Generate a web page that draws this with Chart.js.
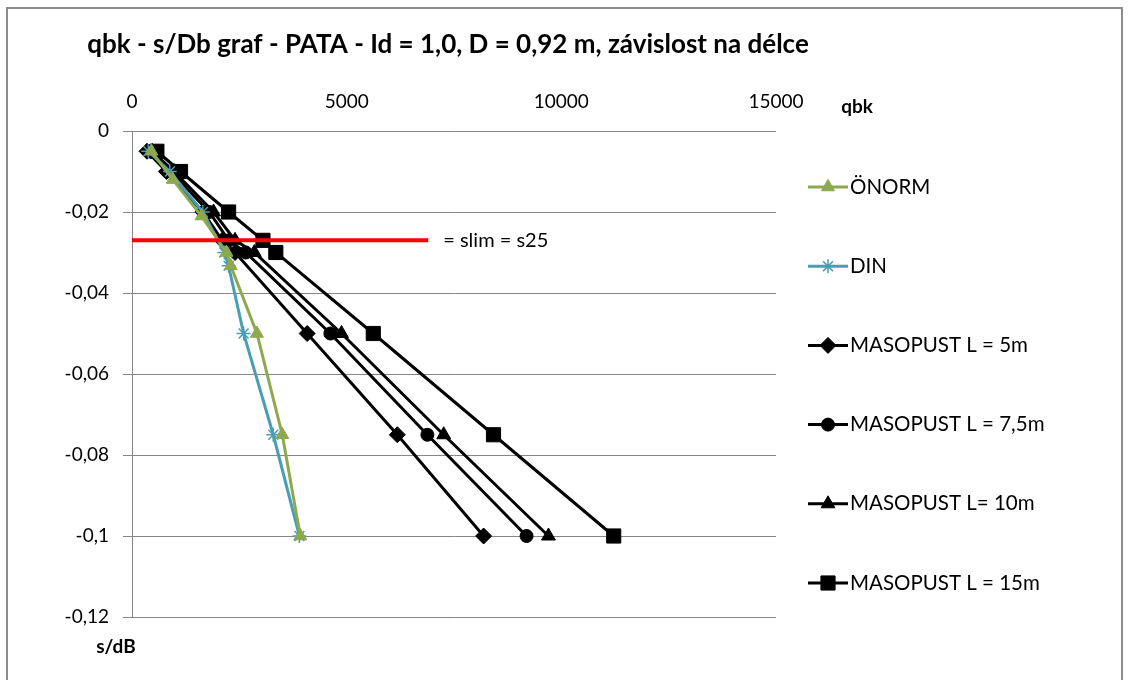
<!DOCTYPE html>
<html>
<head>
<meta charset="utf-8">
<script src="https://cdn.jsdelivr.net/npm/chart.js@4/dist/chart.umd.min.js"></script>
<style>
  body { margin: 0; background: #fff; }
  #wrap { width: 1132px; height: 680px; }
</style>
</head>
<body>
<div id="wrap"><canvas id="qbkChart" width="1132" height="680"></canvas></div>
<script>
// s/Db values (plotted downwards) and qbk values per series
var onormS = [-0.005, -0.012, -0.021, -0.03, -0.0333, -0.05, -0.075, -0.1];
var onormQ = [450, 950, 1620, 2200, 2300, 2910, 3500, 3920];
var dinS = [-0.005, -0.01, -0.02, -0.03, -0.0333, -0.05, -0.075, -0.1];
var dinQ = [380, 880, 1650, 2150, 2250, 2600, 3290, 3900];
var masoS = [-0.005, -0.01, -0.02, -0.027, -0.03, -0.05, -0.075, -0.1];
var maso5Q = [350, 800, 1650, 2100, 2400, 4080, 6180, 8190];
var maso75Q = [420, 900, 1800, 2250, 2650, 4620, 6880, 9190];
var maso10Q = [470, 980, 1900, 2400, 2850, 4880, 7260, 9700];
var maso15Q = [580, 1130, 2250, 3050, 3350, 5620, 8420, 11220];
var slimS = -0.027;
var slimQ = [0, 6900];

var seriesNames = ["ÖNORM", "DIN", "MASOPUST L = 5m", "MASOPUST L = 7,5m", "MASOPUST L= 10m", "MASOPUST L = 15m"];
var xTicks = [0, 5000, 10000, 15000];
var yTicks = [0, -0.02, -0.04, -0.06, -0.08, -0.1, -0.12];

var FONT = "Lato, 'Open Sans', sans-serif";

function pts(qs, ss) {
  return qs.map(function (q, i) {
    return { x: q, y: Array.isArray(ss) ? ss[i] : ss };
  });
}

function fmtNum(v) {
  return String(Math.round(v * 100) / 100).replace(".", ",");
}

var styles = [
  { color: "#8DA94F", point: "triangle", radius: 7.5 },
  { color: "#4A9DB5", point: "star", radius: 7 },
  { color: "#000000", point: "rectRot", radius: 8 },
  { color: "#000000", point: "circle", radius: 6.5 },
  { color: "#000000", point: "triangle", radius: 8 },
  { color: "#000000", point: "rect", radius: 10 },
];

var seriesData = [
  pts(onormQ, onormS),
  pts(dinQ, dinS),
  pts(maso5Q, masoS),
  pts(maso75Q, masoS),
  pts(maso10Q, masoS),
  pts(maso15Q, masoS),
];

var datasets = seriesData.map(function (d, i) {
  return {
    label: seriesNames[i],
    data: d,
    showLine: true,
    borderColor: styles[i].color,
    backgroundColor: styles[i].color,
    borderWidth: 3,
    pointStyle: styles[i].point,
    pointRadius: styles[i].radius,
    pointBorderWidth: i === 1 ? 1.5 : 1,
    pointBorderColor: styles[i].color,
    pointBackgroundColor: styles[i].color,
    order: 2,
  };
});

datasets.push({
  label: "slim",
  data: pts(slimQ, slimS),
  showLine: true,
  borderColor: "#FF0000",
  borderWidth: 4,
  pointRadius: 0,
  order: 1,
});

var decorPlugin = {
  id: "decor",
  afterDraw: function (chart) {
    var ctx = chart.ctx;
    var area = chart.chartArea;
    var x = chart.scales.x;
    var y = chart.scales.y;
    ctx.save();

    // outer frame
    ctx.strokeStyle = "#8c8c8c";
    ctx.lineWidth = 2;
    ctx.strokeRect(7, 8, 1115, 700);

    // title
    ctx.fillStyle = "#000";
    ctx.font = "bold 26px " + FONT;
    ctx.textAlign = "center";
    ctx.textBaseline = "middle";
    ctx.fillText("qbk - s/Db graf - PATA - Id = 1,0, D = 0,92 m, závislost na délce", 448, 45);

    // axis names
    ctx.font = "bold 19px " + FONT;
    ctx.fillText("qbk", area.right + 81, area.top - 24);
    ctx.fillText("s/dB", area.left - 16, area.bottom + 30);

    // slim label
    ctx.font = "20px " + FONT;
    ctx.textAlign = "left";
    ctx.fillText("= slim = s25", x.getPixelForValue(slimQ[1]) + 15, y.getPixelForValue(slimS));

    // legend
    var lx = area.right + 32;
    var ly0 = area.top + 56;
    var step = 79.2;
    ctx.font = "20.5px " + FONT;
    for (var i = 0; i < seriesNames.length; i++) {
      var ly = ly0 + i * step;
      var st = styles[i];
      ctx.strokeStyle = st.color;
      ctx.lineWidth = 3;
      ctx.beginPath();
      ctx.moveTo(lx, ly);
      ctx.lineTo(lx + 40, ly);
      ctx.stroke();
      ctx.lineWidth = i === 1 ? 1.5 : 1;
      ctx.fillStyle = st.color;
      Chart.helpers.drawPoint(ctx, { pointStyle: st.point, radius: st.radius, borderWidth: 1 }, lx + 20, ly);
      ctx.fillStyle = "#000";
      ctx.fillText(seriesNames[i], lx + 42, ly);
    }
    ctx.restore();
  },
};

var canvas = document.getElementById("qbkChart");
var ctx = canvas.getContext("2d");
var qbkChart = new Chart(ctx, {
  type: "scatter",
  data: { datasets: datasets },
  options: {
    responsive: false,
    animation: false,
    devicePixelRatio: 1,
    layout: { padding: { left: 0, top: 0, right: 356, bottom: 63 } },
    plugins: {
      legend: { display: false },
      tooltip: { enabled: false },
    },
    scales: {
      x: {
        type: "linear",
        position: "top",
        min: 0,
        max: 15000,
        afterFit: function (s) { s.height = 131; },
        afterBuildTicks: function (s) { s.ticks = xTicks.map(function (v) { return { value: v }; }); },
        grid: { display: false, drawTicks: false },
        border: { display: false },
        ticks: {
          padding: 18,
          color: "#000",
          font: { family: FONT, size: 19 },
          callback: function (v) { return String(v); },
        },
      },
      y: {
        type: "linear",
        min: -0.12,
        max: 0,
        afterFit: function (s) { s.width = 132; },
        afterBuildTicks: function (s) { s.ticks = yTicks.map(function (v) { return { value: v }; }); },
        grid: { color: "#868686", lineWidth: 1, tickLength: 9 },
        border: { color: "#868686", width: 1 },
        ticks: {
          padding: 14,
          color: "#000",
          font: { family: FONT, size: 19 },
          callback: function (v) { return fmtNum(v); },
        },
      },
    },
  },
  plugins: [decorPlugin],
});
</script>
</body>
</html>
